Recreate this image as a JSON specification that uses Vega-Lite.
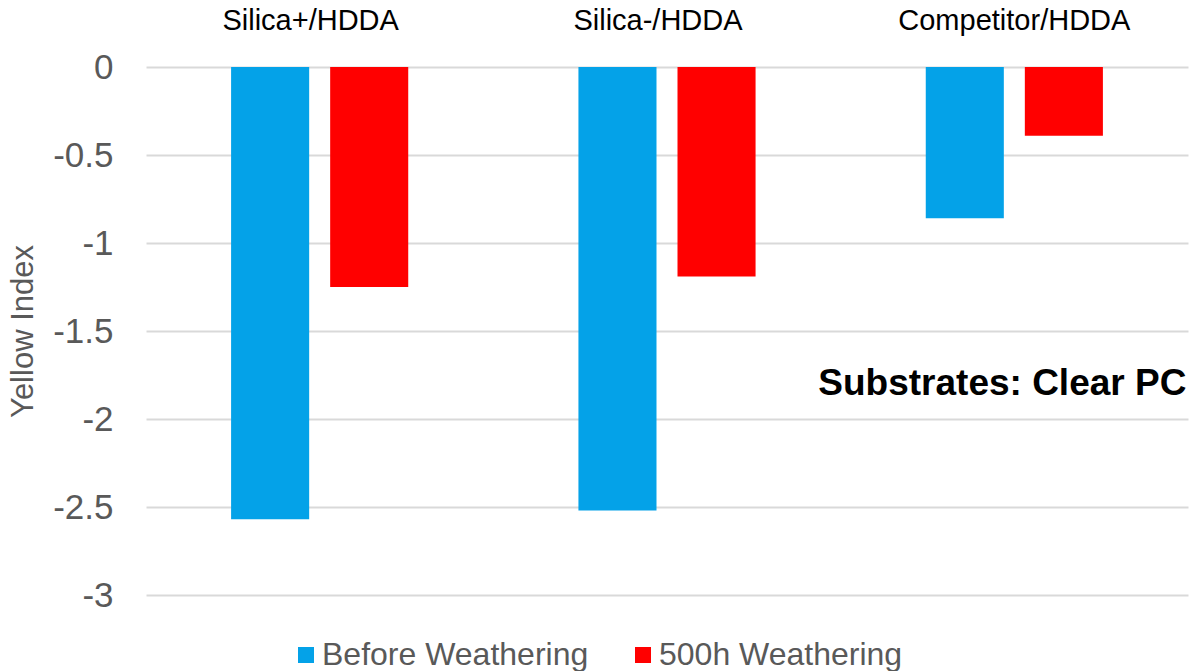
{
  "$schema": "https://vega.github.io/schema/vega-lite/v6.json",
  "width": 1042,
  "height": 528,
  "autosize": "none",
  "padding": {"left": 146, "top": 67, "right": 5, "bottom": 76},
  "config": {"view": {"stroke": null}, "font": "Liberation Sans"},
  "layer": [
    {
      "data": {
        "values": [
          {"sample": "Silica+/HDDA", "condition": "Before Weathering", "yi": -2.57},
          {"sample": "Silica+/HDDA", "condition": "500h Weathering", "yi": -1.25},
          {"sample": "Silica-/HDDA", "condition": "Before Weathering", "yi": -2.52},
          {"sample": "Silica-/HDDA", "condition": "500h Weathering", "yi": -1.19},
          {"sample": "Competitor/HDDA", "condition": "Before Weathering", "yi": -0.86},
          {"sample": "Competitor/HDDA", "condition": "500h Weathering", "yi": -0.39}
        ]
      },
      "mark": {"type": "bar", "strokeWidth": 0},
      "encoding": {
        "x": {
          "field": "sample",
          "type": "nominal",
          "sort": ["Silica+/HDDA", "Silica-/HDDA", "Competitor/HDDA"],
          "scale": {"paddingInner": 0.49, "paddingOuter": 0.245},
          "axis": {
            "orient": "top",
            "title": null,
            "domain": false,
            "ticks": false,
            "tickSize": 0,
            "labelAngle": 0,
            "labelPadding": 32,
            "labelLimit": 0,
            "labelOffset": {
              "condition": {"test": "datum.value != 'Competitor/HDDA'", "value": -9},
              "value": 0
            },
            "labelFontSize": 29,
            "labelColor": "#000000"
          }
        },
        "xOffset": {
          "field": "condition",
          "sort": ["Before Weathering", "500h Weathering"],
          "scale": {"paddingInner": 0.212, "paddingOuter": 0}
        },
        "y": {
          "field": "yi",
          "type": "quantitative",
          "scale": {"domain": [-3, 0], "nice": false, "zero": false},
          "axis": {
            "values": [-3, -2.5, -2, -1.5, -1, -0.5, 0],
            "labelExpr": "datum.value < 0 ? '-' + format(-datum.value, '~g') : '0'",
            "domain": false,
            "ticks": false,
            "tickSize": 0,
            "grid": true,
            "gridColor": "#D9D9D9",
            "gridWidth": 2,
            "labelFontSize": 35,
            "labelColor": "#595959",
            "labelPadding": 33,
            "title": "Yellow Index",
            "titleFontSize": 31,
            "titleFontWeight": "normal",
            "titleColor": "#595959",
            "titlePadding": 13
          }
        },
        "color": {
          "field": "condition",
          "type": "nominal",
          "scale": {
            "domain": ["Before Weathering", "500h Weathering"],
            "range": ["#04A2E8", "#FF0000"]
          },
          "legend": {
            "title": null,
            "orient": "none",
            "direction": "horizontal",
            "legendX": 144,
            "legendY": 572,
            "symbolType": "square",
            "symbolSize": 256,
            "symbolStrokeWidth": 0,
            "labelFontSize": 32,
            "labelLimit": 0,
            "labelColor": "#595959",
            "labelOffset": 0,
            "columnPadding": 38
          }
        }
      }
    },
    {
      "data": {"values": [{"note": "Substrates: Clear PC"}]},
      "mark": {
        "type": "text",
        "fontSize": 37,
        "fontWeight": "bold",
        "color": "#000000",
        "dx": -12
      },
      "encoding": {
        "x": {"datum": "Competitor/HDDA"},
        "y": {"datum": -1.8},
        "text": {"field": "note"}
      }
    }
  ]
}
